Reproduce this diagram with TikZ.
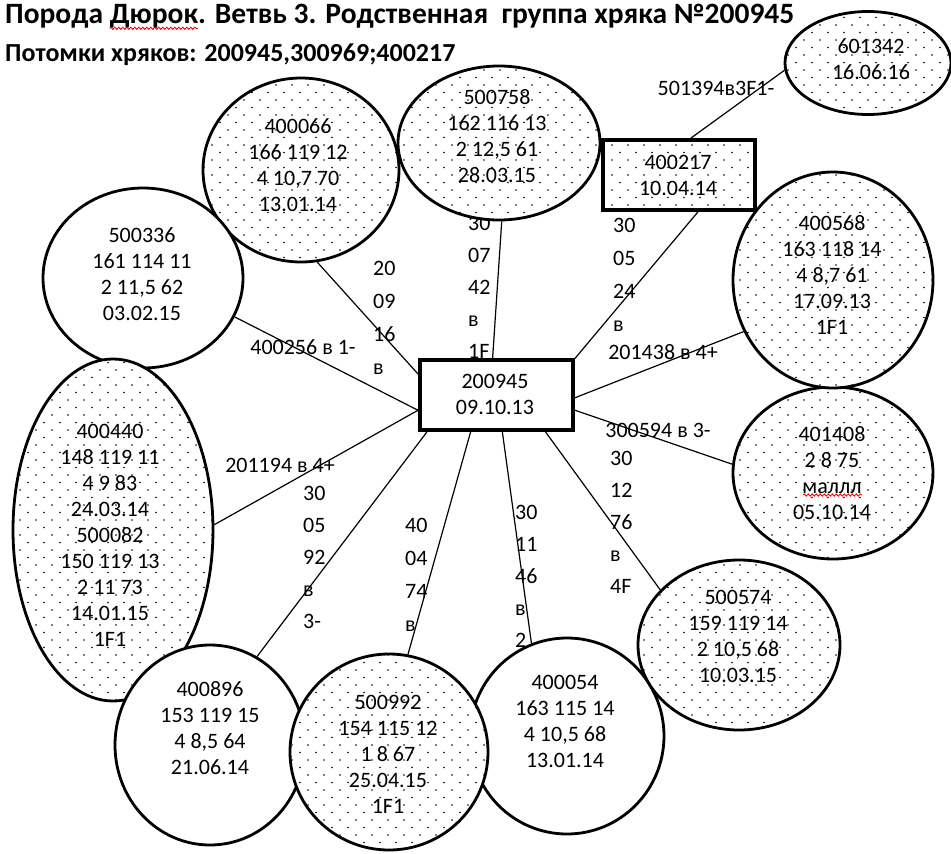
\documentclass[tikz,border=0pt]{standalone}
\usepackage{fontspec}
\setmainfont{Carlito}
\usetikzlibrary{shapes.geometric,patterns,decorations.pathmorphing}

% sparse staggered dot fill
\pgfdeclarepatternformonly{wdots}{\pgfqpoint{-1pt}{-1pt}}{\pgfqpoint{17pt}{16pt}}{\pgfqpoint{16pt}{15pt}}{%
  \pgfpathcircle{\pgfqpoint{4pt}{4pt}}{0.85pt}%
  \pgfpathcircle{\pgfqpoint{12pt}{11.5pt}}{0.85pt}%
  \pgfusepath{fill}%
}

\pgfdeclarelayer{back}
\pgfsetlayers{back,main}

\newcommand\titlefont{\bfseries\fontsize{29.5}{34}\selectfont}
\newlength\wordstart
\newlength\wordend

\tikzset{
  oval/.style={ellipse, draw, line width=2.8pt, inner sep=0pt},
  dotfill/.style={preaction={fill=white}, pattern=wdots},
  blank/.style={fill=white},
  card/.style={rectangle, draw, line width=4pt, inner sep=0pt},
  txt/.style={align=center, inner sep=0pt, font=\fontsize{22}{26}\selectfont},
  col/.style={align=left, inner sep=0pt, anchor=north west, font=\fontsize{22}{33}\selectfont},
  lbl/.style={inner sep=0pt, font=\fontsize{22}{26}\selectfont},
  link/.style={line width=1.2pt},
  spell/.style={red, line width=0.9pt, decorate, decoration={snake, amplitude=1.1pt, segment length=4pt}},
}

\begin{document}
% span of the second heading word, for the wavy mark under it
\settowidth\wordstart{\titlefont Порода }%
\settowidth\wordend{\titlefont Порода Дюрок}%
\begin{tikzpicture}[x=1pt,y=-1pt]
\useasboundingbox (0,0) rectangle (951,854);

% headings
\node[anchor=west, inner sep=0pt, font=\titlefont] (title) at (5,16)
  {Порода Дюрок. Ветвь 3. Родственная~~группа хряка №200945};
\node[anchor=west, inner sep=0pt, font=\bfseries\fontsize{26}{30}\selectfont] (sub) at (5,55)
  {Потомки хряков: 200945,300969;400217};
\coordinate (w1) at ([xshift=\wordstart, yshift=-5pt]title.base west);
\coordinate (w2) at ([xshift=\wordend, yshift=-5pt]title.base west);
\draw[spell] (w1) -- (w2);

% central boar
\node[card, blank, minimum width=153pt, minimum height=70pt] (c) at (496.5,395) {};
\node[txt] (c-t) at (495,394.5) {200945\\09.10.13};

% descendants
\node[oval, dotfill, minimum width=166pt, minimum height=103pt] (e601342) at (868,63) {};
\node[txt] (t601342) at (871,59.5) {601342\\16.06.16};

\node[card, dotfill, minimum width=152pt, minimum height=70pt] (r400217) at (679,175) {};
\node[txt] (t400217) at (678,175.5) {400217\\10.04.14};

\node[oval, dotfill, minimum width=202pt, minimum height=154pt] (e500758) at (499,143) {};
\node[txt] (t500758) at (497,136.5) {500758\\162 116 13\\2 12,5 61\\28.03.15};

\node[oval, dotfill, minimum width=196pt, minimum height=184pt] (e400066) at (301,170) {};
\node[txt] (t400066) at (298,165.5) {400066\\166 119 12\\4 10,7 70\\13.01.14};

\node[oval, blank, minimum width=200pt, minimum height=180pt] (e500336) at (143,278) {};
\node[txt] (t500336) at (142,274) {500336\\161 114 11\\2 11,5 62\\03.02.15};

\node[oval, dotfill, minimum width=200pt, minimum height=342pt] (e400440) at (113,530) {};
\node[txt] (t400440) at (110,535)
  {400440\\148 119 11\\4 9 83\\24.03.14\\500082\\150 119 13\\2 11 73\\14.01.15\\1F1};

\node[oval, blank, minimum width=190pt, minimum height=200pt] (e400896) at (210,745) {};
\node[txt] (t400896) at (210,728.5) {400896\\153 119 15\\4 8,5 64\\21.06.14};

\node[oval, blank, minimum width=194pt, minimum height=196pt] (e400054) at (567,736) {};
\node[txt] (t400054) at (565,721) {400054\\163 115 14\\4 10,5 68\\13.01.14};

\node[oval, dotfill, minimum width=198pt, minimum height=196pt] (e500992) at (389,752) {};
\node[txt] (t500992) at (388,754.5) {500992\\154 115 12\\1 8 67\\25.04.15\\1F1};

\node[oval, dotfill, minimum width=202pt, minimum height=170pt] (e500574) at (739,645) {};
\node[txt] (t500574) at (738,636) {500574\\159 119 14\\2 10,5 68\\10.03.15};

\node[oval, dotfill, minimum width=200pt, minimum height=172pt] (e401408) at (833,473) {};
\node[txt] (t401408) at (832,473.5) {401408\\2 8 75\\маллл\\05.10.14};
\draw[spell] (803,495) -- (862,495);

\node[oval, dotfill, minimum width=200pt, minimum height=216pt] (e400568) at (833,280) {};
\node[txt] (t400568) at (832,274.5) {400568\\163 118 14\\4 8,7 61\\17.09.13\\1F1};

% connectors and their labels sit underneath the shapes
\begin{pgfonlayer}{back}
  \draw[link] (r400217.72.5) -- (e601342.185);
  \draw[link] (r400217.297) -- (c.25);
  \draw[link] (e500758.272) -- (c.96);
  \draw[link] (e400066.280) -- (c.165);
  \draw[link] (e500336.337) -- (c.191);
  \draw[link] (e400440.3) -- (c.191);
  \draw[link] (e400896.62) -- (c.208.5);
  \draw[link] (e500992.79) -- (c.235);
  \draw[link] (e400054.111) -- (c.279);
  \draw[link] (e500574.145) -- (c.323);
  \draw[link] (e401408.175) -- (c.349);
  \draw[link] (e400568.210) -- (c.358.5);

  \node[lbl] (l501394) at (716,88) {501394в3F1-};
  \node[lbl] (l201438) at (663,352) {201438 в 4+};
  \node[lbl] (l400256) at (303,347) {400256 в 1-};
  \node[lbl] (l201194) at (280,465) {201194 в 4+};
  \node[lbl] (l300594) at (658,430) {300594 в 3-};

  \node[col] (kA) at (613,218) {30\\05\\24\\в};
  \node[col, font=\fontsize{22}{32}\selectfont] (kB) at (468,216) {30\\07\\42\\в\\1F};
  \node[col] (kC) at (373,261) {20\\09\\16\\в};
  \node[col, font=\fontsize{22}{32}\selectfont] (kD) at (303,486) {30\\05\\92\\в\\3-};
  \node[col] (kE) at (405,518) {40\\04\\74\\в};
  \node[col, font=\fontsize{22}{32}\selectfont] (kF) at (515,505) {30\\11\\46\\в\\2};
  \node[col, font=\fontsize{22}{32}\selectfont] (kG) at (610,451) {30\\12\\76\\в\\4F};
\end{pgfonlayer}
\end{tikzpicture}
\end{document}
